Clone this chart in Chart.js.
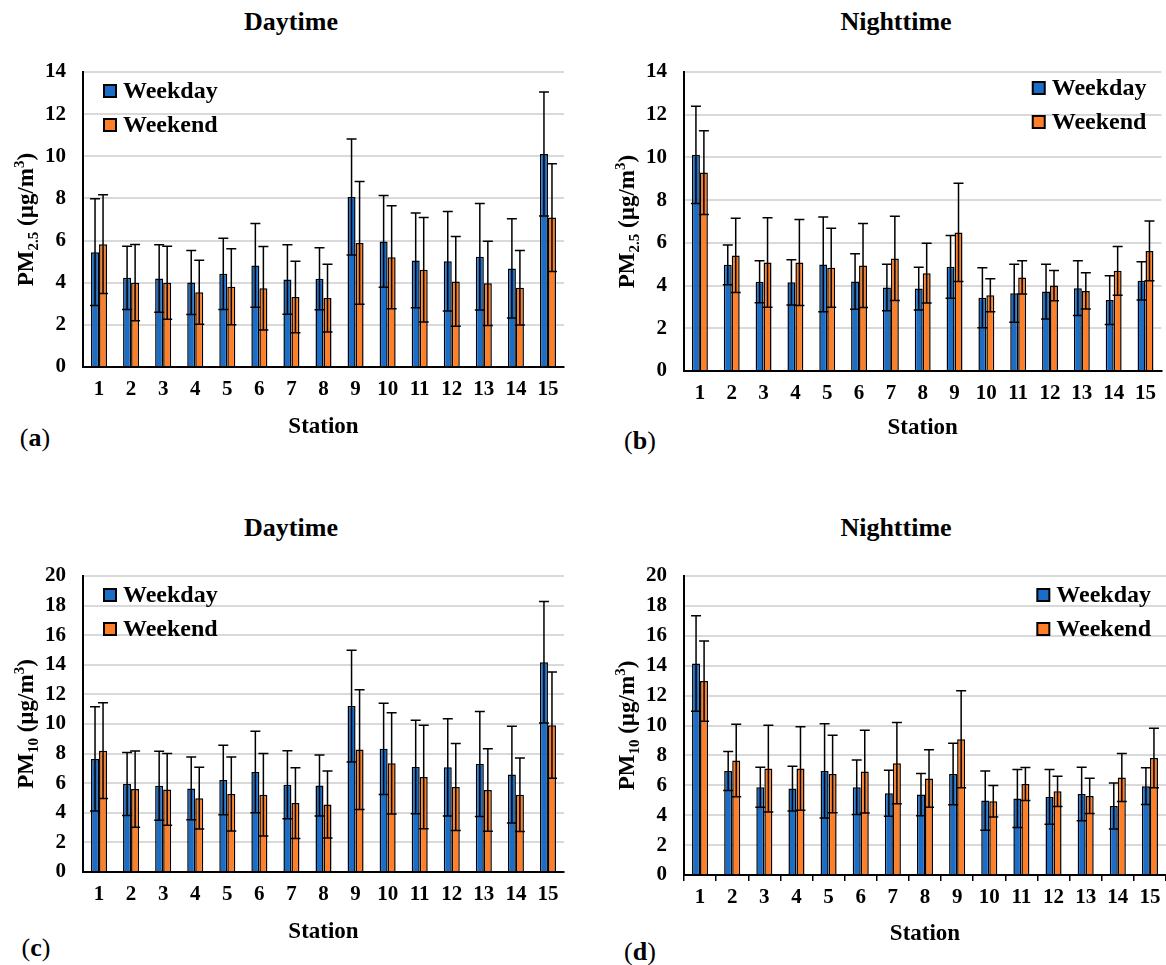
<!DOCTYPE html>
<html>
<head>
<meta charset="utf-8">
<script src="https://cdn.jsdelivr.net/npm/chart.js@4.4.1/dist/chart.umd.min.js"></script>
<style>
body { margin: 0; background: #fff; }
#wrap { position: relative; width: 1166px; height: 965px; font-family: 'Liberation Serif', 'LiberationSerif', Tinos, 'Times New Roman', Times, 'DejaVu Serif', serif; color: #000; }
canvas { position: absolute; }
.ttl { position: absolute; font-weight: bold; font-size: 26px; transform: translate(-50%, -50%); white-space: nowrap; }
.tag { position: absolute; font-size: 26px; transform: translate(-50%, -50%); white-space: nowrap; }
</style>
</head>
<body>
<div id="wrap">
  <div class="ttl" style="left:291px;top:22px">Daytime</div>
  <div class="ttl" style="left:896px;top:22px">Nighttime</div>
  <div class="ttl" style="left:291px;top:528px">Daytime</div>
  <div class="ttl" style="left:896px;top:528px">Nighttime</div>
  <div class="tag" style="left:35px;top:438px">(<b>a</b>)</div>
  <div class="tag" style="left:640px;top:441px">(<b>b</b>)</div>
  <div class="tag" style="left:36px;top:948px">(<b>c</b>)</div>
  <div class="tag" style="left:640px;top:952px">(<b>d</b>)</div>
  <canvas id="chartA" width="583" height="482" style="left:0;top:0"></canvas>
  <canvas id="chartB" width="583" height="482" style="left:583px;top:0"></canvas>
  <canvas id="chartC" width="583" height="483" style="left:0;top:482px"></canvas>
  <canvas id="chartD" width="583" height="483" style="left:583px;top:482px"></canvas>
</div>
<script>
const stations = ['1','2','3','4','5','6','7','8','9','10','11','12','13','14','15'];
const seriesNames = ['Weekday', 'Weekend'];
const seriesColors = ['#1b6ec8', '#fe7f27'];

// PM2.5 daytime
const pm25DayWeekday   = [5.45, 4.23, 4.20, 4.01, 4.42, 4.82, 4.15, 4.19, 8.07, 5.96, 5.06, 5.02, 5.23, 4.68, 10.11];
const pm25DayWeekdaySd = [2.53, 1.50, 1.60, 1.52, 1.69, 1.99, 1.65, 1.47, 2.75, 2.18, 2.25, 2.36, 2.53, 2.35, 2.94];
const pm25DayWeekend   = [5.83, 4.00, 4.00, 3.55, 3.81, 3.74, 3.32, 3.27, 5.89, 5.21, 4.61, 4.06, 3.97, 3.76, 7.09];
const pm25DayWeekendSd = [2.34, 1.81, 1.73, 1.52, 1.80, 1.98, 1.70, 1.61, 2.91, 2.44, 2.48, 2.13, 2.00, 1.77, 2.56];

// PM2.5 nighttime
const pm25NightWeekday   = [10.12, 4.97, 4.18, 4.15, 4.99, 4.19, 3.91, 3.86, 4.88, 3.43, 3.64, 3.72, 3.88, 3.32, 4.22];
const pm25NightWeekdaySd = [2.28, 0.93, 0.98, 1.06, 2.22, 1.30, 1.09, 1.00, 1.47, 1.40, 1.36, 1.28, 1.28, 1.14, 0.89];
const pm25NightWeekend   = [9.29, 5.41, 5.08, 5.08, 4.83, 4.94, 5.27, 4.58, 6.49, 3.55, 4.38, 4.00, 3.75, 4.69, 5.62];
const pm25NightWeekendSd = [1.96, 1.74, 2.10, 2.01, 1.85, 1.97, 1.97, 1.40, 2.30, 0.77, 0.78, 0.71, 0.85, 1.14, 1.40];

// PM10 daytime
const pm10DayWeekday   = [7.64, 5.94, 5.83, 5.65, 6.21, 6.76, 5.90, 5.85, 11.21, 8.32, 7.10, 7.07, 7.30, 6.58, 14.17];
const pm10DayWeekdaySd = [3.52, 2.13, 2.33, 2.12, 2.35, 2.75, 2.30, 2.06, 3.77, 3.09, 3.16, 3.28, 3.55, 3.27, 4.11];
const pm10DayWeekend   = [8.20, 5.60, 5.58, 4.99, 5.27, 5.22, 4.66, 4.56, 8.27, 7.34, 6.42, 5.74, 5.54, 5.22, 9.92];
const pm10DayWeekendSd = [3.24, 2.58, 2.42, 2.08, 2.50, 2.78, 2.39, 2.26, 4.05, 3.42, 3.50, 2.94, 2.78, 2.49, 3.59];

// PM10 nighttime
const pm10NightWeekday   = [14.15, 6.96, 5.87, 5.78, 6.96, 5.87, 5.47, 5.38, 6.76, 4.98, 5.11, 5.22, 5.42, 4.62, 5.94];
const pm10NightWeekdaySd = [3.19, 1.30, 1.34, 1.50, 3.15, 1.83, 1.54, 1.41, 2.06, 1.98, 1.94, 1.83, 1.79, 1.54, 1.23];
const pm10NightWeekend   = [12.97, 7.66, 7.12, 7.12, 6.76, 6.92, 7.48, 6.45, 9.08, 4.93, 6.09, 5.60, 5.29, 6.52, 7.83];
const pm10NightWeekendSd = [2.68, 2.43, 2.90, 2.79, 2.59, 2.77, 2.72, 1.92, 3.24, 1.05, 1.10, 1.01, 1.18, 1.61, 1.99];

const pm25Max = 14;
const pm10Max = 20;
const yStep = 2;

const FONT = "'Liberation Serif', 'LiberationSerif', Tinos, 'Times New Roman', Times, 'DejaVu Serif', serif";

// mean +/- sd whiskers on every bar
const errorBars = {
    id: 'errorBars',
    afterDatasetsDraw(chart) {
        const ctx = chart.ctx, y = chart.scales.y;
        ctx.save();
        ctx.strokeStyle = '#000';
        ctx.lineWidth = 1.5;
        chart.data.datasets.forEach((ds, i) => {
            chart.getDatasetMeta(i).data.forEach((bar, j) => {
                const top = y.getPixelForValue(ds.data[j] + ds.errors[j]);
                const bot = y.getPixelForValue(ds.data[j] - ds.errors[j]);
                ctx.beginPath();
                ctx.moveTo(bar.x, top); ctx.lineTo(bar.x, bot);
                ctx.moveTo(bar.x - 5, top); ctx.lineTo(bar.x + 5, top);
                ctx.moveTo(bar.x - 5, bot); ctx.lineTo(bar.x + 5, bot);
                ctx.stroke();
            });
        });
        ctx.restore();
    }
};

// legend drawn inside the plot, stacked
const boxLegend = {
    id: 'boxLegend',
    afterDraw(chart, args, opts) {
        const {ctx, chartArea: a} = chart;
        ctx.save();
        ctx.font = 'bold 24px ' + FONT;
        ctx.textBaseline = 'middle';
        chart.data.datasets.forEach((ds, i) => {
            const y = a.top + opts.top + i * 34;
            let x;
            if (opts.align === 'right') {
                x = a.right - opts.offset - ctx.measureText(ds.label).width - 19;
            } else {
                x = a.left + opts.offset;
            }
            ctx.fillStyle = ds.backgroundColor;
            ctx.fillRect(x, y - 6, 12, 12);
            ctx.strokeStyle = '#000';
            ctx.lineWidth = 2;
            ctx.strokeRect(x, y - 6, 12, 12);
            ctx.fillStyle = '#000';
            ctx.fillText(ds.label, x + 19, y + 1);
        });
        ctx.restore();
    }
};

// rotated y title with sub/superscripts
const yTitle = {
    id: 'yTitle',
    afterDraw(chart, args, opts) {
        const {ctx, chartArea: a} = chart;
        ctx.save();
        ctx.translate(a.left - 58, (a.top + a.bottom) / 2);
        ctx.rotate(-Math.PI / 2);
        ctx.fillStyle = '#000';
        ctx.textBaseline = 'alphabetic';
        let total = 0;
        opts.parts.forEach(p => { ctx.font = 'bold ' + p[1] + 'px ' + FONT; total += ctx.measureText(p[0]).width; });
        let x = -total / 2;
        opts.parts.forEach(p => {
            ctx.font = 'bold ' + p[1] + 'px ' + FONT;
            ctx.fillText(p[0], x, 8 + p[2]);
            x += ctx.measureText(p[0]).width;
        });
        ctx.restore();
    }
};

function makeChart(id, means, errs, yMax, o) {
    return new Chart(document.getElementById(id), {
        type: 'bar',
        data: {
            labels: stations,
            datasets: seriesNames.map((name, i) => ({
                label: name,
                data: means[i],
                errors: errs[i],
                backgroundColor: seriesColors[i],
                borderColor: '#000',
                borderWidth: 1.5,
                categoryPercentage: 0.5,
                barPercentage: 1.0
            }))
        },
        options: {
            responsive: false,
            animation: false,
            layout: { padding: { left: 0, top: o.top, right: o.right, bottom: 0 } },
            plugins: {
                legend: { display: false },
                tooltip: { enabled: false },
                boxLegend: o.legend,
                yTitle: { parts: o.yParts }
            },
            scales: {
                x: {
                    grid: { display: o.xTicks, drawTicks: o.xTicks, offset: true, drawOnChartArea: false, tickLength: 6, color: '#000', lineWidth: 1.5 },
                    border: { color: '#000', width: 2 },
                    ticks: { color: '#000', font: { family: FONT, weight: 'bold', size: 21 }, padding: o.xTicks ? 4 : 10, maxRotation: 0, autoSkip: false },
                    title: { display: true, text: 'Station', color: '#000', font: { family: FONT, weight: 'bold', size: 23 }, padding: { top: 0, bottom: o.xTitlePad } },
                    afterFit: s => { s.height = o.H - o.bottom; }
                },
                y: {
                    min: 0, max: yMax,
                    ticks: { stepSize: yStep, color: '#000', font: { family: FONT, weight: 'bold', size: 21 }, padding: 17 },
                    grid: { color: '#d9d9d9', lineWidth: 2, drawTicks: false },
                    border: { color: '#000', width: 2 },
                    afterFit: s => { s.width = o.left; }
                }
            }
        },
        plugins: [errorBars, boxLegend, yTitle]
    });
}

const pm25Parts = [['PM', 23, 0], ['2.5', 15, 5], [' (\u00b5g/m', 23, 0], ['3', 15, -9], [')', 23, 0]];
const pm10Parts = [['PM', 23, 0], ['10', 15, 5], [' (\u00b5g/m', 23, 0], ['3', 15, -9], [')', 23, 0]];

makeChart('chartA', [pm25DayWeekday, pm25DayWeekend], [pm25DayWeekdaySd, pm25DayWeekendSd], pm25Max,
    { H: 482, left: 83, right: 19, top: 72, bottom: 367, xTicks: false, xTitlePad: 41, yParts: pm25Parts,
      legend: { align: 'left', offset: 21, top: 19 } });
makeChart('chartB', [pm25NightWeekday, pm25NightWeekend], [pm25NightWeekdaySd, pm25NightWeekendSd], pm25Max,
    { H: 482, left: 101, right: 0, top: 72, bottom: 371, xTicks: false, xTitlePad: 40, yParts: pm25Parts,
      legend: { align: 'right', offset: 15, top: 16 } });
makeChart('chartC', [pm10DayWeekday, pm10DayWeekend], [pm10DayWeekdaySd, pm10DayWeekendSd], pm10Max,
    { H: 483, left: 83, right: 19, top: 94, bottom: 390, xTicks: false, xTitlePad: 19, yParts: pm10Parts,
      legend: { align: 'left', offset: 21, top: 19 } });
makeChart('chartD', [pm10NightWeekday, pm10NightWeekend], [pm10NightWeekdaySd, pm10NightWeekendSd], pm10Max,
    { H: 483, left: 101, right: 0, top: 94, bottom: 393, xTicks: true, xTitlePad: 17, yParts: pm10Parts,
      legend: { align: 'right', offset: 15, top: 19 } });
</script>
</body>
</html>
